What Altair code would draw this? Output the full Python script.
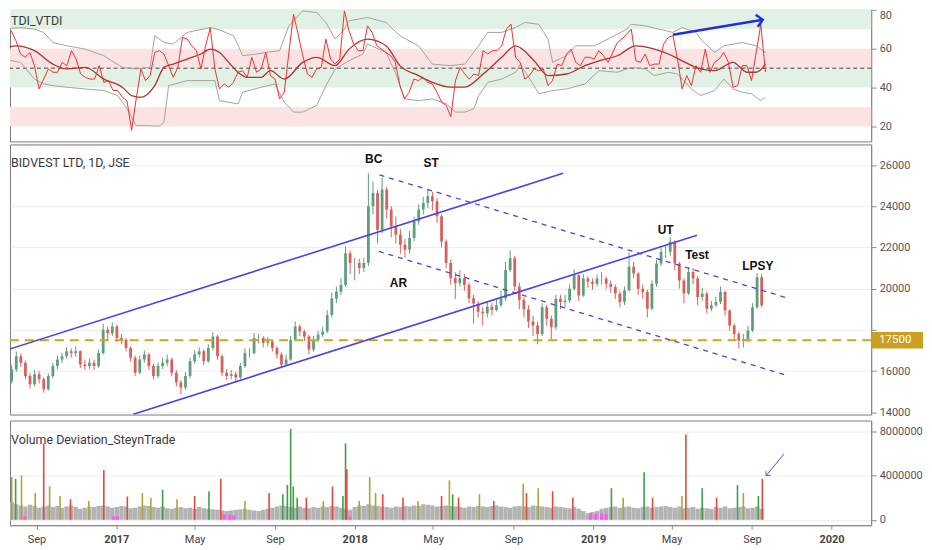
import altair as alt
import pandas as pd

START = "2016-07-18"
W = 864
H_TDI, H_PX, H_VOL = 132, 271, 105
FONT = "Roboto"

# ---------------- price (weekly OHLC) ----------------
FIRST_OPEN = 15300
closes = [15500,16080,16720,16400,15760,15360,15840,15600,15120,15760,
          16240,16560,16720,16960,16880,16960,16320,16240,16400,16240,
          16880,18000,17840,18160,17600,17520,17120,16640,15920,16560,
          16800,16240,15760,16240,16400,16560,15920,15440,15200,15760,
          16480,16800,16960,16480,17120,17680,16720,15920,15760,15840,
          15680,16240,16880,16880,17600,17600,17360,17440,17120,16800,
          16320,16560,17520,18160,17920,17680,17040,17520,17760,17920,
          18720,19520,19850,20180,21720,21240,21240,21000,21240,24000,
          24650,22860,24810,23840,23020,22620,22130,21890,22460,23270,
          23840,24160,24490,24240,23510,22290,21240,20500,20260,20500,
          20180,19530,19280,18880,18800,19120,18960,19200,19530,20910,
          21480,20100,19450,19000,18400,18210,17800,19100,18540,18130,
          19510,19350,19430,20000,20650,19670,20490,20330,20240,20490,
          20490,20240,20080,19760,19350,19920,21060,20730,20000,19840,
          19025,20240,21220,21790,21790,22280,21220,20400,19760,20810,
          20490,19590,19760,19025,19190,19350,19840,18940,18210,17800,
          17480,17560,17970,19100,20550,19200]
highs = [15800,16300,16950,16850,16500,15900,16050,16000,15700,15900,
         16400,16750,16900,17150,17100,17200,17000,16550,16600,16550,
         17050,18300,18150,18350,18250,17800,17600,17200,16750,16750,
         17000,16900,16350,16400,16650,16800,16650,16050,15550,15950,
         16650,17000,17150,17050,17300,17900,17750,16800,16100,16050,
         15950,16400,17100,17100,17850,17800,17700,17650,17550,17200,
         16900,16800,17700,18400,18250,18000,17750,17700,17950,18150,
         18950,19800,20100,20500,22050,21850,21500,21450,21500,25600,
         25200,24800,25400,24950,24000,23500,22900,22400,22800,23500,
         24100,24450,24800,24700,24400,23600,22400,21400,20800,20900,
         20700,20300,19700,19400,19100,19400,19300,19500,19900,21300,
         21850,21600,20300,19600,19200,18700,18400,19300,19200,18700,
         19700,19700,19700,20200,20950,20700,20700,20600,20500,20700,
         20800,20600,20400,20200,19900,20100,21750,21300,20800,20200,
         19950,20400,21400,22000,22100,22500,22350,21300,20500,21050,
         21000,20600,20050,19850,19400,19600,20100,19900,19000,18300,
         17900,17800,18200,19300,20750,20700]
lows = [15100,15400,15950,16200,15600,15150,15250,15400,14950,15050,
        15650,16100,16400,16600,16650,16700,16150,16050,16100,16050,
        16150,16800,17500,17700,17400,17300,16950,16450,15750,15850,
        16400,16050,15600,15650,16100,16250,15750,15250,14850,15100,
        15650,16350,16650,16300,16400,17000,16550,15750,15550,15600,
        15450,15600,16150,16650,16800,17350,17150,17200,16950,16600,
        16150,16250,16500,17450,17700,17450,16800,16950,17400,17650,
        17850,18600,19300,19700,20100,20700,20400,20700,20800,21100,
        23600,22200,22700,23400,22500,22200,21700,21500,21700,22300,
        23100,23600,23900,23800,23200,22000,21000,20200,19500,20100,
        19900,19300,18300,18600,18200,18600,18700,18900,19100,19400,
        20800,19900,19000,18600,18100,17700,17300,17700,18200,17550,
        18000,19000,19100,19300,19900,19400,19600,20050,19950,20100,
        20200,20000,19800,19500,19100,19200,19850,20500,19700,19500,
        18600,18950,20100,21100,21500,21600,20900,20000,19300,19700,
        20200,19200,19400,18800,18900,19100,19250,18700,17950,17500,
        17100,17150,17400,17900,19000,19100]

# ---------------- TDI ----------------
rsi = [59.8,64.1,69.2,64.1,57.3,55.6,58.1,51.3,39.3,44.4,
       49.6,47.9,47.9,53.0,51.3,59.0,54.7,47.0,45.3,44.4,
       44.4,51.3,42.7,43.6,38.5,38.5,35.0,33.3,18.0,34.2,
       49.6,43.6,46.2,58.1,59.0,57.3,51.3,45.3,50.4,65.8,
       65.0,61.5,59.0,49.6,61.5,70.9,49.6,39.3,41.9,40.2,
       42.7,47.9,48.7,45.3,55.6,47.9,49.6,58.1,46.2,44.4,
       34.2,37.6,58.1,77.8,67.5,56.4,47.0,45.3,49.6,50.4,
       65.0,54.7,52.1,54.7,79.5,69.2,62.4,59.0,59.0,71.8,
       68.4,61.5,59.8,58.1,56.4,53.0,41.0,34.2,37.6,44.4,
       43.6,45.3,42.7,41.9,37.6,32.5,30.8,25.0,43.6,50.4,
       47.0,44.4,47.0,46.2,59.0,57.3,59.0,59.0,61.5,70.1,
       72.6,55.6,53.0,44.4,46.2,49.6,48.7,49.6,41.0,43.6,
       52.1,51.3,57.3,59.8,53.0,51.3,55.6,55.6,54.7,59.0,
       56.4,53.0,58.1,63.2,65.0,67.5,70.1,53.8,53.0,57.3,
       51.3,52.1,52.1,62.4,65.8,66.7,54.7,39.3,46.2,41.0,
       51.3,47.9,59.8,47.9,53.0,54.7,58.1,53.0,40.2,41.0,
       51.3,51.3,43.6,58.1,72.5,48.0]

sig_idx = [0,3,7,11,14,18,22,26,28,30,33,35,37,40,43,45,47,49,51,53,56,58,61,65,68,72,75,79,83,86,
           90,93,97,100,104,108,111,115,118,122,126,129,133,137,141,144,147,151,154,158,161,163,165]
sig_val = [59.8,61.5,59.0,52.1,49.6,50.4,44.4,40.2,35.9,35.0,41.0,50.4,52.1,54.7,57.3,59.8,58.1,53.0,47.9,45.3,
           45.3,48.7,44.4,53.0,55.6,51.3,59.8,65.0,61.5,51.3,46.2,42.7,40.2,40.2,47.0,55.6,61.5,53.8,46.2,47.0,
           51.3,53.8,56.4,61.5,59.8,57.3,53.8,49.6,48.7,53.0,47.9,47.9,52.1]

up_idx = [0,4,7,9,11,14,18,22,26,29,32,33,35,37,40,45,47,50,51,52,55,57,60,62,65,68,70,72,74,75,79,83,86,
          90,93,97,100,103,105,108,110,111,113,116,118,119,122,124,128,131,135,136,139,142,145,147,150,151,
          154,156,160,163,165]
up_val = [70.1,70.9,70.1,68.4,63.2,61.5,59.8,56.4,50.4,49.6,50.4,66.7,63.2,62.4,68.4,70.9,69.7,66.7,62.0,56.4,
          57.3,58.1,59.0,71.8,79.5,78.6,73.5,65.0,70.1,74.4,76.1,73.5,66.7,61.5,52.1,51.3,52.1,61.5,68.4,68.4,
          70.1,70.9,73.5,72.6,65.0,53.0,56.4,61.5,61.5,65.0,70.1,72.6,71.8,70.1,68.4,70.9,68.4,65.0,58.1,61.5,
          63.2,61.5,58.1]

lo_idx = [0,4,7,9,11,14,18,22,25,27,29,34,35,36,40,46,47,51,52,56,59,61,63,65,68,70,72,75,78,79,83,85,87,
          90,93,96,98,100,102,103,105,108,111,112,115,116,119,122,126,129,133,136,139,141,144,146,149,151,
          154,156,158,160,162,164,165]
lo_val = [54.7,53.0,44.4,41.9,41.0,40.2,39.3,38.5,35.9,29.1,20.5,20.2,22.2,41.0,43.6,43.6,33.3,31.6,37.6,40.2,
          41.9,32.5,27.4,27.4,30.8,41.0,49.6,53.8,57.3,62.4,58.1,47.9,34.2,33.3,34.2,31.6,27.4,27.4,29.1,35.9,
          42.7,44.4,47.9,52.1,41.0,36.8,38.5,39.3,41.9,48.7,47.9,50.4,49.6,46.2,47.9,47.0,39.3,35.9,38.5,44.4,
          39.3,37.6,36.8,33.3,35.0]

band_lo = [70, 50, 40, 20]
band_hi = [80, 60, 50, 30]
band_col = ["#e2f1e5", "#fce3e3", "#e2f1e5", "#fce3e3"]

# ---------------- volume ----------------
vol_base = [1500,1600,1400,1300,1200,1350,1250,1100,
            1200,1300,1150,1250,1100,1200,1300,1150,
            1000,1100,1200,1150,1250,1300,1200,1100,
            1150,1250,1200,1050,1100,1200,1300,1250,
            1150,1100,1200,1050,1000,1100,1150,1050,
            1100,1000,1150,1050,1000,950,900,850,
            800,850,900,950,1000,900,850,800,
            900,1000,1100,1200,1300,1250,1150,1100,
            1200,1100,1050,1150,1100,1200,1150,1250,
            1200,1100,1000,900,1150,1300,1250,1400,
            1300,1250,1200,1150,1100,1200,1150,1250,
            1200,1300,1250,1400,1350,1300,1200,1250,
            1300,1250,1200,1150,1100,1200,1150,1250,
            1200,1150,1250,1300,1200,1150,1100,1200,
            1250,1200,1150,1300,1250,1200,1150,1100,
            1200,1150,1100,1050,1150,1000,800,600,
            700,800,1000,1100,1150,1200,1100,1150,
            1200,1100,1050,1150,1200,1100,1150,1200,
            1250,1150,1100,1200,1050,1100,1150,1000,
            1100,1050,1000,1150,1100,1200,1050,1100,
            1150,1200,1050,1100,1200,1000]

spike_dates = ["2016-07-25","2016-07-31","2016-08-09","2016-08-30","2016-09-12","2016-09-21","2016-10-07",
               "2016-10-23","2016-11-20","2016-12-13","2017-01-18","2017-02-10","2017-02-23","2017-03-13",
               "2017-04-04","2017-05-01","2017-05-23","2017-06-10","2017-07-17","2017-08-23","2017-09-13",
               "2017-09-20","2017-09-25","2017-09-29","2017-10-05","2017-10-19","2017-11-14","2017-11-28",
               "2017-12-14","2017-12-18","2017-12-20","2018-01-08","2018-01-24","2018-02-02","2018-02-13",
               "2018-03-16","2018-04-08","2018-05-14","2018-05-26","2018-05-31","2018-06-09","2018-07-11",
               "2018-08-02","2018-09-16","2018-09-21","2018-10-09","2018-10-31","2018-12-01","2019-01-29",
               "2019-02-16","2019-03-20","2019-04-02","2019-05-17","2019-05-23","2019-06-17","2019-07-09",
               "2019-08-10","2019-08-19","2019-09-11","2019-09-17"]
spike_vals = [3.86,3.71,4.0,2.43,6.9,3.0,2.14,1.86,1.7,4.5,2.1,2.43,2.0,2.71,1.86,2.14,2.57,3.71,1.7,2.43,
              2.3,3.14,8.2,3.0,2.0,2.0,1.7,3.0,2.14,6.9,4.57,1.7,3.86,2.43,2.3,2.0,1.7,2.14,3.57,2.3,
              2.0,2.3,1.7,3.29,2.43,2.86,2.57,2.0,2.86,2.0,4.29,2.0,2.14,7.7,2.86,2.0,3.14,2.43,2.14,3.71]
spike_cols = ["o","g","o","o","r","o","o","r","o","r","r","o","o","g","o","r","g","r","o","r",
              "g","g","g","g","g","r","o","r","g","g","r","o","o","o","r","r","o","r","o","g",
              "r","o","r","o","r","o","r","r","g","o","g","r","o","r","g","r","g","o","g","r"]
mag_dates = ["2016-08-14","2016-12-28","2017-01-03","2017-06-15","2017-06-24","2017-06-30",
             "2017-12-25","2018-12-28","2019-01-05","2019-01-14","2019-01-21"]
mag_vals = [0.35,0.3,0.3,0.5,0.45,0.4,0.3,0.6,0.55,0.6,0.5]

# ---------------- drawings ----------------
tl_solid_dates = [["2016-07-18", "2018-11-16"], ["2017-01-27", "2019-06-09"]]
tl_solid_prices = [[17030, 25600], [13900, 22590]]
tl_dash_dates = [["2018-02-08", "2019-10-22"], ["2018-02-07", "2019-10-22"]]
tl_dash_prices = [[25520, 19580], [21810, 15810]]
ann_text = ["BC", "ST", "AR", "UT", "Test", "LPSY"]
ann_dates = ["2018-01-30", "2018-04-28", "2018-03-09", "2019-04-22", "2019-06-09", "2019-09-10"]
ann_prices = [26280, 26080, 20275, 22840, 21630, 21100]
SUPPORT = 17500
tdi_arrow_dates = ["2019-04-29", "2019-09-12"]
tdi_arrow_vals = [67.2, 74.9]
vol_arrow_dates = ["2019-10-20", "2019-09-23"]
vol_arrow_vals = [5.94e6, 4.0e6]

tdi_ticks = [20, 40, 60, 80]
price_ticks = [14000, 16000, 18000, 20000, 22000, 24000, 26000]
vol_ticks = [0, 4000000, 8000000]

# ---------------- frames ----------------
weeks = pd.date_range(START, periods=len(closes), freq="7D")
opens = [FIRST_OPEN] + closes[:-1]
px = pd.DataFrame({"date": weeks, "open": opens, "close": closes, "high": highs, "low": lows})
px["dir"] = ["up" if c >= o else "down" for o, c in zip(opens, closes)]

rsi_df = pd.DataFrame({"date": weeks, "v": rsi})
sig_df = pd.DataFrame({"date": weeks[sig_idx], "v": sig_val})
bb_df = pd.concat([
    pd.DataFrame({"date": weeks[up_idx], "v": up_val, "k": "upper"}),
    pd.DataFrame({"date": weeks[lo_idx], "v": lo_val, "k": "lower"}),
])
bands_df = pd.DataFrame({"lo": band_lo, "hi": band_hi, "c": band_col})

vb_df = pd.DataFrame({"date": weeks, "v": [v * 1000 for v in vol_base]})
col_map = {"r": "#e8463e", "g": "#3e9e48", "o": "#aaa43c"}
sp_df = pd.DataFrame({"date": pd.to_datetime(spike_dates), "v": [v * 1e6 for v in spike_vals],
                      "c": [col_map[c] for c in spike_cols]})
mg_df = pd.DataFrame({"date": pd.to_datetime(mag_dates), "v": [v * 1e6 for v in mag_vals]})

def lines_df(dates, prices):
    rows = []
    for k, (ds, ps) in enumerate(zip(dates, prices)):
        for d, p in zip(ds, ps):
            rows.append({"date": pd.Timestamp(d), "p": p, "k": k})
    return pd.DataFrame(rows)

solid_df = lines_df(tl_solid_dates, tl_solid_prices)
dash_df = lines_df(tl_dash_dates, tl_dash_prices)
ann_df = pd.DataFrame({"date": pd.to_datetime(ann_dates), "p": ann_prices, "t": ann_text})
tdi_ar = pd.DataFrame({"date": pd.to_datetime(tdi_arrow_dates), "v": tdi_arrow_vals})
vol_ar = pd.DataFrame({"date": pd.to_datetime(vol_arrow_dates), "v": vol_arrow_vals})

# ---------------- scales / axes ----------------
xscale = alt.Scale(domain=[alt.DateTime(year=2016, month=7, date=30),
                           alt.DateTime(year=2020, month=2, date=23)])

x_axis = alt.Axis(
    values=[alt.DateTime(year=2016, month=9, date=1), alt.DateTime(year=2017, month=1, date=1),
            alt.DateTime(year=2017, month=5, date=1), alt.DateTime(year=2017, month=9, date=1),
            alt.DateTime(year=2018, month=1, date=1), alt.DateTime(year=2018, month=5, date=1),
            alt.DateTime(year=2018, month=9, date=1), alt.DateTime(year=2019, month=1, date=1),
            alt.DateTime(year=2019, month=5, date=1), alt.DateTime(year=2019, month=9, date=1),
            alt.DateTime(year=2020, month=1, date=1)],
    labelExpr="month(datum.value) == 0 ? timeFormat(datum.value, '%Y') : timeFormat(datum.value, '%b')",
    labelFontWeight={"condition": {"test": "month(datum.value) == 0", "value": "bold"},
                     "value": "normal"},
    grid=False, tickSize=4, labelPadding=4, title=None, labelColor="#444")

def X(axis=None):
    return alt.X("date:T", scale=xscale, axis=axis, title=None)

tdi_scale = alt.Scale(domain=[12.3, 80], nice=False, zero=False)
px_scale = alt.Scale(domain=[13887, 27003], nice=False, zero=False)
vol_scale = alt.Scale(domain=[-486000, 8970000], nice=False, zero=False)

def yaxis(values, grid=True, label_expr=None, flush=False):
    kw = dict(orient="right", values=values, grid=grid, title=None, tickSize=5,
              labelPadding=3, format="d", labelFlush=flush)
    if label_expr:
        kw["labelExpr"] = label_expr
    return alt.Axis(**kw)

tdi_axis = yaxis(tdi_ticks, grid=False, flush=True)
px_axis = yaxis(price_ticks, label_expr="datum.value == 18000 ? '' : format(datum.value, 'd')")
vol_axis = yaxis(vol_ticks)

def Y(field, scale, axis):
    return alt.Y(field, scale=scale, axis=axis, title=None)

def title_layer(text, y):
    return alt.Chart(pd.DataFrame({"t": [text]})).mark_text(
        align="left", baseline="middle", font=FONT, fontSize=12.5, color="#3a3a3a"
    ).encode(x=alt.value(1), y=alt.value(y), text="t:N")

# ---------------- TDI panel ----------------
tdi_bands = alt.Chart(bands_df).mark_rect().encode(
    x=alt.value(0), x2=alt.value(W),
    y=Y("hi:Q", tdi_scale, tdi_axis), y2="lo:Q",
    color=alt.Color("c:N", scale=None),
)
tdi_mid = alt.Chart(pd.DataFrame({"v": [50]})).mark_rule(
    color="#444", strokeDash=[4, 3], strokeWidth=1
).encode(y=Y("v:Q", tdi_scale, tdi_axis))
tdi_bb = alt.Chart(bb_df).mark_line(color="#a3a3a3", strokeWidth=1, clip=True).encode(
    x=X(), y=Y("v:Q", tdi_scale, tdi_axis), detail="k:N")
tdi_sig = alt.Chart(sig_df).mark_line(color="#b0302a", strokeWidth=1.3, clip=True,
                                      interpolate="monotone").encode(
    x=X(), y=Y("v:Q", tdi_scale, tdi_axis))
tdi_rsi = alt.Chart(rsi_df).mark_line(color="#f2302c", strokeWidth=1, clip=True).encode(
    x=X(), y=Y("v:Q", tdi_scale, tdi_axis))
tdi_arrow = alt.Chart(tdi_ar).mark_line(color="#1f2fe0", strokeWidth=2.5).encode(
    x=X(), y=Y("v:Q", tdi_scale, tdi_axis))
tdi_head = alt.Chart(tdi_ar.tail(1)).mark_point(
    shape="M-1,-1L0,0L-1,1", filled=False, size=150, strokeWidth=2.5,
    color="#1f2fe0", angle=350.6, opacity=1
).encode(x=X(), y=Y("v:Q", tdi_scale, tdi_axis))

tdi = alt.layer(tdi_bands, tdi_mid, tdi_bb, tdi_sig, tdi_rsi, tdi_arrow, tdi_head,
                title_layer("TDI_VTDI", 11)).properties(width=W, height=H_TDI)

# ---------------- price panel ----------------
dir_color = alt.Color("dir:N", scale=alt.Scale(domain=["up", "down"],
                                               range=["#5f9e7c", "#d9605a"]), legend=None)
wick = alt.Chart(px).mark_rule(strokeWidth=1, clip=True).encode(
    x=X(), y=Y("low:Q", px_scale, px_axis), y2="high:Q", color=dir_color)
body = alt.Chart(px).mark_bar(size=2.8, clip=True).encode(
    x=X(), y=Y("open:Q", px_scale, px_axis), y2="close:Q", color=dir_color)
support = alt.Chart(pd.DataFrame({"p": [SUPPORT]})).mark_rule(
    color="#d4a21a", strokeDash=[9, 6], strokeWidth=2).encode(
    y=Y("p:Q", px_scale, px_axis))
solid = alt.Chart(solid_df).mark_line(color="#4a44e2", strokeWidth=1.6, clip=True).encode(
    x=X(), y=Y("p:Q", px_scale, px_axis), detail="k:N")
dashed = alt.Chart(dash_df).mark_line(color="#4a44e2", strokeWidth=1.3, strokeDash=[5, 5],
                                      clip=True).encode(
    x=X(), y=Y("p:Q", px_scale, px_axis), detail="k:N")
ann = alt.Chart(ann_df).mark_text(font="Liberation Sans", fontSize=12, fontWeight="bold",
                                  color="#111").encode(
    x=X(), y=Y("p:Q", px_scale, px_axis), text="t:N")
lab_box = alt.Chart(pd.DataFrame({"a": [SUPPORT + 400], "b": [SUPPORT - 400]})).mark_rect(
    color="#c9a020").encode(
    x=alt.value(W), x2=alt.value(W + 52),
    y=Y("a:Q", px_scale, px_axis), y2="b:Q")
lab_txt = alt.Chart(pd.DataFrame({"p": [SUPPORT], "t": [str(SUPPORT)]})).mark_text(
    align="left", baseline="middle", font=FONT, fontSize=11.5, color="white").encode(
    x=alt.value(W + 8), y=Y("p:Q", px_scale, px_axis), text="t:N")

price = alt.layer(wick, body, support, solid, dashed, ann, lab_box, lab_txt,
                  title_layer("BIDVEST LTD, 1D, JSE", 19)).properties(width=W, height=H_PX)

# ---------------- volume panel ----------------
vbase = alt.Chart(vb_df).mark_bar(size=4.4, color="#b3b3b3", clip=True).encode(
    x=X(x_axis), y=Y("v:Q", vol_scale, vol_axis), y2=alt.datum(0))
vmag = alt.Chart(mg_df).mark_bar(size=3, color="#ff55ff", clip=True).encode(
    x=X(x_axis), y=Y("v:Q", vol_scale, vol_axis), y2=alt.datum(0))
vsp = alt.Chart(sp_df).mark_bar(size=1.6, clip=True).encode(
    x=X(x_axis), y=Y("v:Q", vol_scale, vol_axis), y2=alt.datum(0),
    color=alt.Color("c:N", scale=None))
varrow = alt.Chart(vol_ar).mark_line(color="#4a55e0", strokeWidth=1).encode(
    x=X(x_axis), y=Y("v:Q", vol_scale, vol_axis))
vhead = alt.Chart(vol_ar.tail(1)).mark_point(
    shape="M-1,-1L0,0L-1,1", filled=False, size=40, strokeWidth=1,
    color="#4a55e0", angle=130, opacity=1
).encode(x=X(x_axis), y=Y("v:Q", vol_scale, vol_axis))

vol = alt.layer(vbase, vmag, vsp, varrow, vhead,
                title_layer("Volume Deviation_SteynTrade", 20)).properties(width=W, height=H_VOL)

chart = alt.vconcat(tdi, price, vol, spacing=1).properties(
    padding=0, background="white"
).configure_view(stroke="#7a7a7a", strokeWidth=1).configure_axis(
    labelFont=FONT, labelFontSize=11, labelColor="#555", tickColor="#8a8a8a",
    domainColor="#8a8a8a", gridColor="#ececec"
)

chart.save("out.html", embed_options={"renderer": "svg", "actions": False})
